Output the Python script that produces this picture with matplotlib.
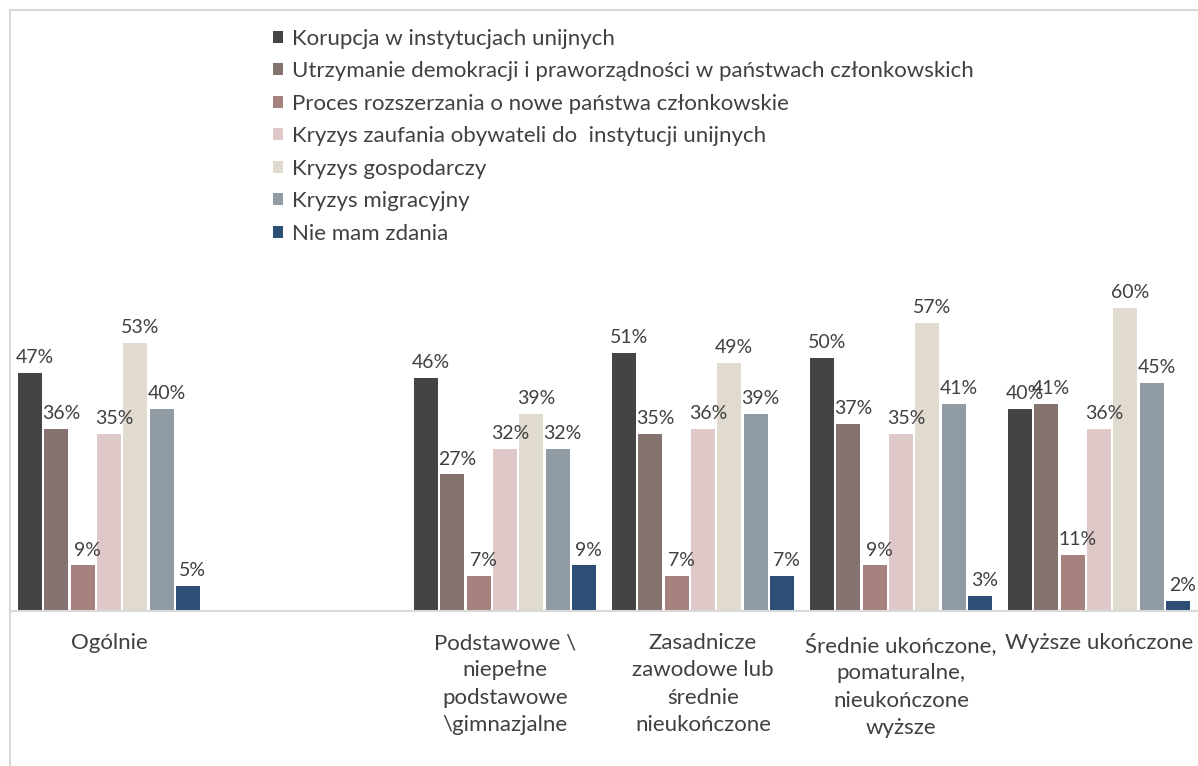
import numpy as np
import matplotlib.pyplot as plt
from matplotlib.patches import Patch, Rectangle

plt.rcParams['font.family'] = ['Lato', 'DejaVu Sans']

groups = ['Ogólnie', '',
          'Podstawowe \\\nniepełne\npodstawowe\n\\gimnazjalne',
          'Zasadnicze\nzawodowe lub\nśrednie\nnieukończone',
          'Średnie ukończone,\npomaturalne,\nnieukończone\nwyższe',
          'Wyższe ukończone']
series = ['Korupcja w instytucjach unijnych',
          'Utrzymanie demokracji i praworządności w państwach członkowskich',
          'Proces rozszerzania o nowe państwa członkowskie',
          'Kryzys zaufania obywateli do  instytucji unijnych',
          'Kryzys gospodarczy',
          'Kryzys migracyjny',
          'Nie mam zdania']
colors = ['#444444', '#857370', '#a6827e', '#dfc9c8', '#e0dacf', '#919ba3', '#2e4f75']
# rows = series, columns = groups (None for the empty slot)
korupcja = [47, None, 46, 51, 50, 40]
demokracja = [36, None, 27, 35, 37, 41]
rozszerzanie = [9, None, 7, 7, 9, 11]
zaufanie = [35, None, 32, 36, 35, 36]
gospodarczy = [53, None, 39, 49, 57, 60]
migracyjny = [40, None, 32, 39, 41, 45]
brak_zdania = [5, None, 9, 7, 3, 2]
values = [korupcja, demokracja, rozszerzanie, zaufanie, gospodarczy, migracyjny, brak_zdania]

txt = '#404040'
W, H = 1198, 766
fig = plt.figure(figsize=(W / 100, H / 100), dpi=100)
# axes spans 6 slots of ~198 px starting at x=10, baseline at y=611
ax = fig.add_axes([10 / W, (H - 611) / H, 1188 / W, 354 / H])

step = 0.133
width = 0.12
x = np.arange(len(groups))
for i, (name, vals, c) in enumerate(zip(series, values, colors)):
    xs = [xi + (i - 3) * step for xi, v in zip(x, vals) if v is not None]
    vs = [v for v in vals if v is not None]
    ax.bar(xs, vs, width=width, color=c, edgecolor='none', label=name)
    for xx, v in zip(xs, vs):
        ax.annotate(f'{v}%', (xx, v), xytext=(3.5, 5), textcoords='offset points',
                    ha='center', va='bottom', fontsize=14, color=txt)

ax.set_xlim(-0.5, len(groups) - 0.5)
ax.set_ylim(0, 70)
ax.set_yticks([])
ax.set_xticks(x)
ax.set_xticklabels(groups, fontsize=16, color=txt, linespacing=1.45, va='top')
ax.tick_params(axis='x', length=0, pad=16)
for s in ['top', 'right', 'left']:
    ax.spines[s].set_visible(False)
ax.spines['bottom'].set_color('#d9d9d9')
ax.spines['bottom'].set_linewidth(1.5)

handles = [Patch(facecolor=c, edgecolor='none') for c in colors]
fig.legend(handles, series, loc='upper left', bbox_to_anchor=(264 / W, 1 - 20 / H),
           frameon=False, fontsize=16, labelcolor=txt, handlelength=0.45,
           handleheight=0.45, handletextpad=0.4, labelspacing=0.56, borderaxespad=0)

fig.add_artist(Rectangle((10 / W, -0.02), 1.0, 1 - 10 / H + 0.02, transform=fig.transFigure,
                         fill=False, edgecolor='#d9d9d9', linewidth=1.5))

fig.savefig('out.png', dpi=100)
